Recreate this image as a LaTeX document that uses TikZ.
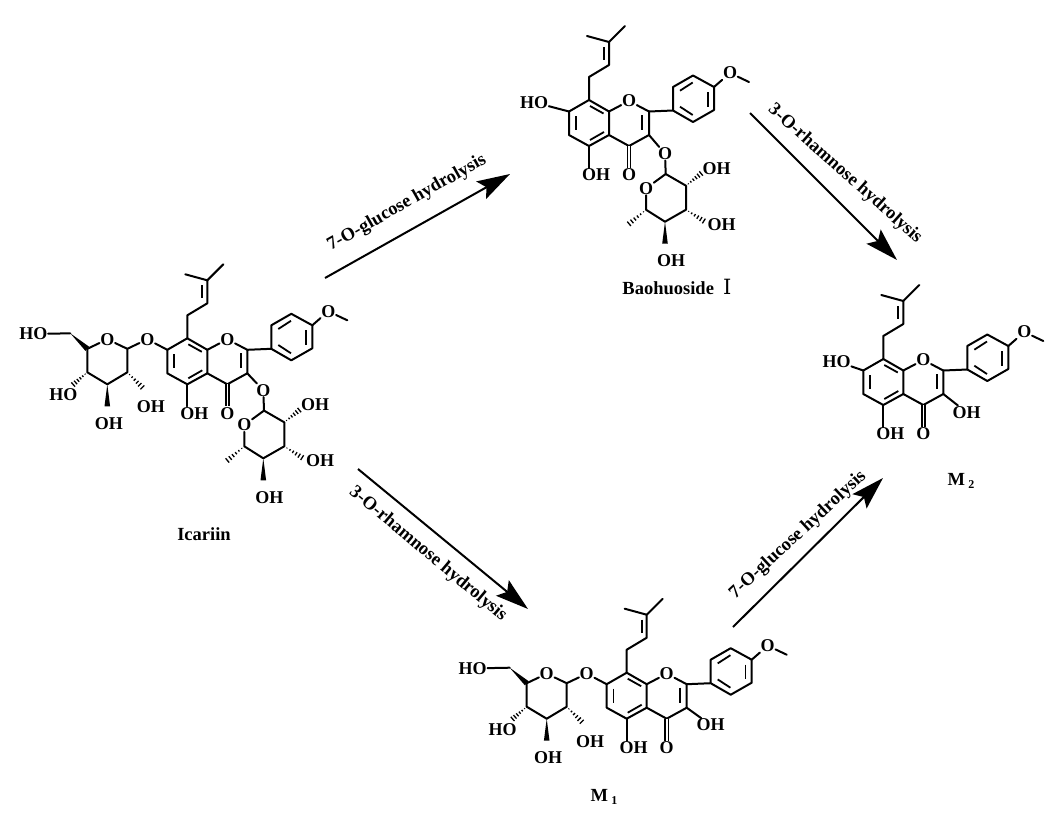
\documentclass[tikz,border=0pt]{standalone}
\usepackage{fontspec}
\setmainfont{Liberation Serif}
\newfontfamily\numeralfont{DejaVu Serif}
\usetikzlibrary{calc, arrows.meta}

\newcommand{\wedgebond}[2]{\fill (#1) -- ($(#2)!2.8pt!90:(#1)$) -- ($(#2)!2.8pt!-90:(#1)$) -- cycle;}
\newcommand{\hashbond}[2]{\foreach \t in {0.14,0.3,0.46,0.62,0.78,0.94} {\draw[line width=1.3pt] ($(#1)!\t!(#2)!{\t*3pt}!90:(#2)$) -- ($(#1)!\t!(#2)!{\t*3pt}!-90:(#2)$);}}

\begin{document}
\begin{tikzpicture}[x=1pt, y=-1pt]
    % Atom, bond and text styles
    \tikzstyle{atom} = [inner sep=0.6pt, font=\fontsize{18}{20}\selectfont\bfseries]
    \tikzstyle{bond} = [line width=2pt, line join=round, line cap=round]
    \tikzstyle{inner bond} = [line width=1.8pt]
    \tikzstyle{carbonyl} = [double, line width=1.5pt, double distance=1.6pt]
    \tikzstyle{title} = [inner sep=0pt, font=\fontsize{18.5}{20}\selectfont\bfseries]
    \tikzstyle{step label} = [inner sep=0pt, font=\fontsize{18.5}{20}\selectfont\bfseries]
    \tikzstyle{reaction} = [line width=2pt, -{Stealth[length=33pt, width=20pt, inset=6pt]}]

    \useasboundingbox (0,0) rectangle (1060,839);

    % Flavone core with prenyl and anisyl groups
    \foreach \mol/\x/\y in {icariin/187.3/338.3, bao/589/100, mtwo/883.3/359, mone/626.7/672.7} {
        \begin{scope}[shift={(\x,\y)}]
            \coordinate (\mol-c8) at (0,0);
            \coordinate (\mol-c8a) at (20,11.5);
            \coordinate (\mol-c4a) at (20,35);
            \coordinate (\mol-c5) at (0,46);
            \coordinate (\mol-c6) at (-20,35);
            \coordinate (\mol-c7) at (-20,11.5);
            \coordinate (\mol-c2) at (60,11.5);
            \coordinate (\mol-c3) at (60,35);
            \coordinate (\mol-c4) at (40,46);
            \node[atom] (\mol-o1) at (40,1) {O};
            \node[atom] (\mol-o4) at (40,75) {O};
            \node[atom] (\mol-oh5) at (7,75) {OH};

            \draw[bond] (\mol-c8) -- (\mol-c8a) -- (\mol-c4a) -- (\mol-c5) -- (\mol-c6) -- (\mol-c7) -- cycle;
            \draw[bond] (\mol-c8a) -- (\mol-o1) -- (\mol-c2) -- (\mol-c3) -- (\mol-c4) -- (\mol-c4a);
            \draw[carbonyl] (\mol-c4) -- (\mol-o4);
            \draw[bond] (\mol-c5) -- (\mol-c5 |- \mol-oh5.north);
            \draw[inner bond] (-13.3,16) -- (-13.3,30);
            \draw[inner bond] (1,6) -- (14.5,13.5);
            \draw[inner bond] (1,40) -- (15,32);
            \draw[inner bond] (53.3,15) -- (53.3,30);

            % Prenyl
            \coordinate (\mol-p1) at (0,-23);
            \coordinate (\mol-p2) at (20,-35);
            \coordinate (\mol-p3) at (20,-58);
            \coordinate (\mol-p4) at (-2,-64);
            \coordinate (\mol-p5) at (36,-74);
            \draw[bond] (\mol-c8) -- (\mol-p1) -- (\mol-p2) -- (\mol-p3) -- (\mol-p4);
            \draw[bond] (\mol-p3) -- (\mol-p5);
            \draw[inner bond] (15,-53) -- (15,-40);

            % Anisyl
            \coordinate (\mol-r1) at (84,10.5);
            \coordinate (\mol-r2) at (84,-13);
            \coordinate (\mol-r3) at (104,-24.5);
            \coordinate (\mol-r4) at (125,-13);
            \coordinate (\mol-r5) at (125,10);
            \coordinate (\mol-r6) at (104,22);
            \coordinate (\mol-me) at (160,-18);
            \node[atom] (\mol-ome) at (141,-27) {O};
            \draw[bond] (\mol-c2) -- (\mol-r1) -- (\mol-r2) -- (\mol-r3) -- (\mol-r4) -- (\mol-r5) -- (\mol-r6) -- (\mol-r1);
            \draw[bond] (\mol-r4) -- (\mol-ome) -- (\mol-me);
            \draw[inner bond] (91,-9.3) -- (103.7,-17.5);
            \draw[inner bond] (118.7,-8) -- (118.7,6.5);
            \draw[inner bond] (91,6.7) -- (103.7,15);
        \end{scope}
    }

    % Glucose on O-7
    \foreach \mol/\x/\y in {icariin/187.3/338.3, mone/626.7/672.7} {
        \begin{scope}[shift={(\x,\y)}]
            \node[atom] (\mol-o7) at (-40,1) {O};
            \node[atom] (\mol-gluo) at (-80,1) {O};
            \coordinate (\mol-g1) at (-60,10.5);
            \coordinate (\mol-g5) at (-100,10.5);
            \coordinate (\mol-g4) at (-100,34);
            \coordinate (\mol-g3) at (-80,46);
            \coordinate (\mol-g2) at (-60,34);
            \coordinate (\mol-g6) at (-117,-5);
            \coordinate (\mol-g3e) at (-80,68);
            \coordinate (\mol-g2e) at (-44,50);
            \coordinate (\mol-g4e) at (-115,47);
            \node[atom] (\mol-ho6) at (-154,-4.3) {HO};
            \node[atom] (\mol-ho4) at (-124,56.5) {HO};
            \node[atom] (\mol-oh3) at (-78.5,85) {OH};
            \node[atom] (\mol-oh2) at (-36.5,68.5) {OH};
            \draw[bond] (\mol-c7) -- (\mol-o7) -- (\mol-g1) -- (\mol-gluo) -- (\mol-g5) -- (\mol-g4) -- (\mol-g3) -- (\mol-g2) -- (\mol-g1);
            \draw[bond] (\mol-g6) -- (\mol-ho6);
            \wedgebond{\mol-g6}{\mol-g5}
            \wedgebond{\mol-g3}{\mol-g3e}
            \hashbond{\mol-g4}{\mol-g4e}
            \hashbond{\mol-g2}{\mol-g2e}
        \end{scope}
    }

    % Rhamnose on O-3
    \foreach \mol/\x/\y in {icariin/187.3/338.3, bao/589/101.7} {
        \begin{scope}[shift={(\x,\y)}]
            \node[atom] (\mol-o3) at (76,52) {O};
            \node[atom] (\mol-rhao) at (57,86.7) {O};
            \coordinate (\mol-h1) at (76.7,72.3);
            \coordinate (\mol-h2) at (97,84);
            \coordinate (\mol-h3) at (97,108);
            \coordinate (\mol-h4) at (76,120);
            \coordinate (\mol-h5) at (57,108);
            \coordinate (\mol-h2e) at (113,71);
            \coordinate (\mol-h3e) at (116,120);
            \coordinate (\mol-h4e) at (76,142);
            \coordinate (\mol-h5e) at (39,123);
            \node[atom] (\mol-oh2r) at (127.7,66.7) {OH};
            \node[atom] (\mol-oh3r) at (132.7,122.7) {OH};
            \node[atom] (\mol-oh4r) at (82,159) {OH};
            \draw[bond] (\mol-c3) -- (\mol-o3) -- (\mol-h1) -- (\mol-h2) -- (\mol-h3) -- (\mol-h4) -- (\mol-h5) -- (\mol-rhao) -- (\mol-h1);
            \hashbond{\mol-h2}{\mol-h2e}
            \hashbond{\mol-h3}{\mol-h3e}
            \hashbond{\mol-h5}{\mol-h5e}
            \wedgebond{\mol-h4}{\mol-h4e}
        \end{scope}
    }

    % Free hydroxyls
    \node[atom] (bao-ho7) at (534,102.3) {HO};
    \node[atom] (mtwo-ho7) at (836.6,361.3) {HO};
    \node[atom] (mtwo-oh3) at (966.6,412.3) {OH};
    \node[atom] (mone-oh3) at (710.7,725) {OH};
    \draw[bond] (bao-c7) -- (bao-ho7);
    \draw[bond] (mtwo-c7) -- (mtwo-ho7);
    \draw[bond] (mtwo-c3) -- (mtwo-oh3);
    \draw[bond] (mone-c3) -- (mone-oh3);

    % Compound names
    \node[title] (icariin) at (204,534) {Icariin};
    \node[title] (bao) at (677,287) {Baohuoside\ \ {\numeralfont\mdseries\fontsize{21}{22}\selectfont Ⅰ}};
    \node[title] (mtwo) at (961,481) {M\,\raisebox{-3pt}{\fontsize{12}{12}\selectfont 2}};
    \node[title] (mone) at (604,797) {M\,\raisebox{-3pt}{\fontsize{12}{12}\selectfont 1}};

    % Reaction arrows
    \coordinate (a1s) at (325,278);
    \coordinate (a1e) at (510,174);
    \coordinate (a2s) at (750,113);
    \coordinate (a2e) at (897,260);
    \coordinate (a3s) at (358,469);
    \coordinate (a3e) at (528,609);
    \coordinate (a4s) at (733,627);
    \coordinate (a4e) at (883,478);
    \draw[reaction] (a1s) -- (a1e);
    \draw[reaction] (a2s) -- (a2e);
    \draw[reaction] (a3s) -- (a3e);
    \draw[reaction] (a4s) -- (a4e);

    \node[step label, rotate=29.4] (a1l) at (407,203) {7-O-glucose hydrolysis};
    \node[step label, rotate=-41.7] (a2l) at (845,174) {3-O-rhamnose hydrolysis};
    \node[step label, rotate=-40] (a3l) at (428,554) {3-O-rhamnose hydrolysis};
    \node[step label, rotate=42.8] (a4l) at (798,535) {7-O-glucose hydrolysis};
\end{tikzpicture}
\end{document}
